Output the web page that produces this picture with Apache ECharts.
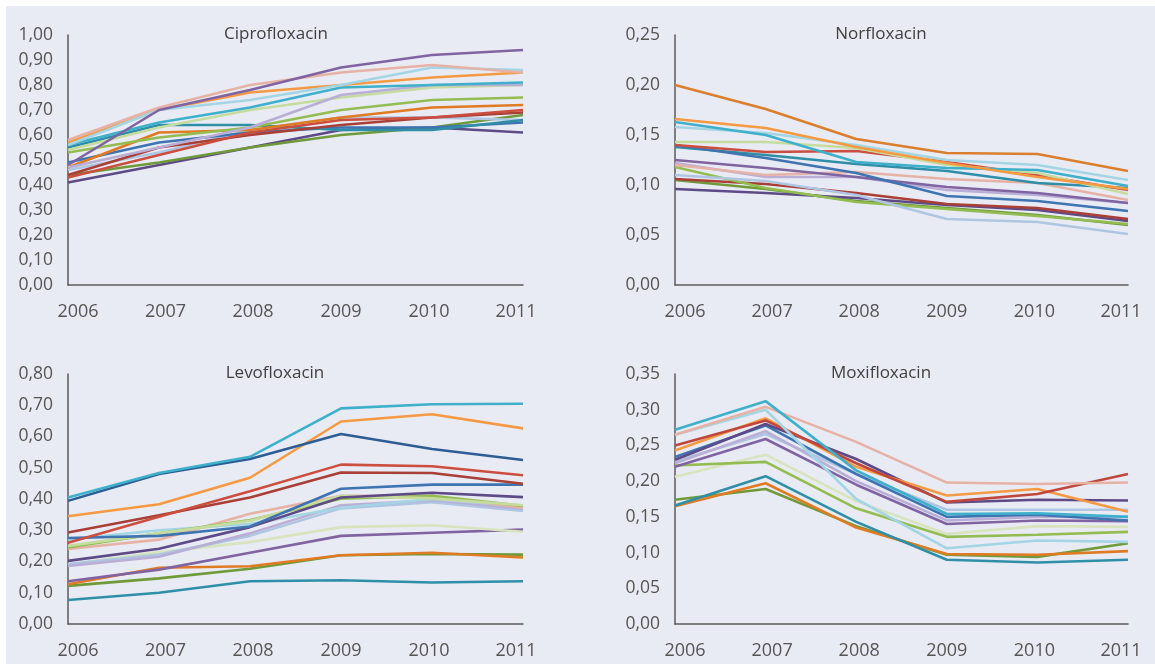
<!DOCTYPE html>
<html>
<head>
<meta charset="utf-8">
<script src="https://cdn.jsdelivr.net/npm/echarts@6/dist/echarts.min.js"></script>
<style>
html,body{margin:0;padding:0;background:#ffffff;}
#chart{position:absolute;left:6px;top:6px;width:1149px;height:658px;}
</style>
</head>
<body>
<div id="chart"></div>
<script>
const years = ['2006','2007','2008','2009','2010','2011'];
const panelTitles = ['Ciprofloxacin','Norfloxacin','Levofloxacin','Moxifloxacin'];

// Ciprofloxacin
const ciproColors = ['#8064A2','#E6B2A6','#A3D5E4','#F59A42','#3FB0CB','#B9AED6','#C6DC9E','#93BD51','#E07B24','#CC4E3E','#A93F36','#2F8FA8','#3E74B2','#AFC6E2','#6F9A3A','#5E4A86'];
const ciproValues = [
  [0.48,0.70,0.78,0.87,0.92,0.94],
  [0.58,0.71,0.80,0.85,0.88,0.85],
  [0.56,0.70,0.74,0.80,0.87,0.86],
  [0.57,0.70,0.77,0.80,0.83,0.85],
  [0.56,0.65,0.71,0.79,0.80,0.81],
  [0.47,0.55,0.63,0.76,0.80,0.80],
  [0.54,0.63,0.70,0.75,0.79,0.80],
  [0.53,0.59,0.63,0.70,0.74,0.75],
  [0.47,0.61,0.62,0.67,0.71,0.72],
  [0.43,0.52,0.61,0.66,0.67,0.70],
  [0.44,0.55,0.60,0.64,0.67,0.69],
  [0.55,0.64,0.64,0.62,0.62,0.66],
  [0.49,0.57,0.61,0.63,0.63,0.65],
  [0.46,0.53,0.62,0.67,0.67,0.66],
  [0.44,0.49,0.55,0.60,0.63,0.68],
  [0.41,0.48,0.55,0.62,0.63,0.61]
];

// Norfloxacin
const norfloColors = ['#DA7F2E','#F59A42','#3FB0CB','#A3D5E4','#C6DC9E','#CC4E3E','#3E74B2','#2F8FA8','#8064A2','#E6B2A6','#B9AED6','#AFC6E2','#93BD51','#A93F36','#5E4A86','#6F9A3A'];
const norfloValues = [
  [0.200,0.176,0.146,0.132,0.131,0.114],
  [0.166,0.157,0.138,0.122,0.108,0.096],
  [0.163,0.150,0.123,0.117,0.115,0.099],
  [0.158,0.152,0.140,0.125,0.120,0.105],
  [0.143,0.143,0.137,0.120,0.112,0.091],
  [0.140,0.133,0.134,0.123,0.110,0.095],
  [0.140,0.127,0.112,0.089,0.084,0.074],
  [0.138,0.130,0.121,0.114,0.102,0.097],
  [0.125,0.117,0.108,0.098,0.092,0.082],
  [0.120,0.110,0.113,0.106,0.102,0.085],
  [0.122,0.108,0.108,0.095,0.090,0.082],
  [0.110,0.104,0.090,0.066,0.063,0.051],
  [0.118,0.097,0.083,0.076,0.069,0.061],
  [0.106,0.101,0.092,0.081,0.077,0.066],
  [0.096,0.092,0.087,0.080,0.075,0.064],
  [0.105,0.096,0.084,0.077,0.070,0.060]
];

// Levofloxacin
const levoColors = ['#3FB0CB','#2D5D95','#F59A42','#CC4E3E','#A93F36','#3E74B2','#5E4A86','#C6DC9E','#93BD51','#E6B2A6','#A3D5E4','#B9AED6','#AFC6E2','#D7E4BD','#8064A2','#E07B24','#6F9A3A','#2F8FA8'];
const levoValues = [
  [0.405,0.483,0.535,0.690,0.703,0.705],
  [0.394,0.480,0.528,0.608,0.560,0.525],
  [0.345,0.383,0.468,0.648,0.671,0.626],
  [0.260,0.343,0.425,0.510,0.505,0.476],
  [0.293,0.348,0.405,0.485,0.483,0.449],
  [0.275,0.282,0.312,0.433,0.446,0.446],
  [0.202,0.241,0.310,0.405,0.420,0.406],
  [0.250,0.290,0.330,0.410,0.402,0.380],
  [0.245,0.290,0.333,0.401,0.410,0.378],
  [0.240,0.270,0.353,0.410,0.410,0.372],
  [0.270,0.300,0.320,0.372,0.400,0.376],
  [0.186,0.215,0.290,0.380,0.396,0.369],
  [0.192,0.222,0.282,0.370,0.390,0.362],
  [0.190,0.230,0.262,0.310,0.316,0.295],
  [0.137,0.174,0.228,0.282,0.292,0.302],
  [0.127,0.180,0.185,0.220,0.228,0.213],
  [0.122,0.146,0.177,0.220,0.224,0.222],
  [0.077,0.100,0.137,0.140,0.133,0.137]
];

// Moxifloxacin
const moxiColors = ['#3FB0CB','#E6B2A6','#A3D5E4','#C0473C','#F59A42','#5E4A86','#3E74B2','#8064A2','#B9AED6','#AFC6E2','#93BD51','#D7E4BD','#2F8FA8','#E07B24','#6F9A3A'];
const moxiValues = [
  [0.272,0.312,0.215,0.154,0.155,0.150],
  [0.265,0.304,0.255,0.198,0.196,0.198],
  [0.265,0.300,0.175,0.106,0.117,0.115],
  [0.250,0.285,0.225,0.171,0.182,0.210],
  [0.243,0.288,0.220,0.180,0.189,0.157],
  [0.230,0.280,0.231,0.170,0.174,0.173],
  [0.234,0.278,0.210,0.150,0.153,0.145],
  [0.220,0.259,0.195,0.140,0.145,0.144],
  [0.225,0.270,0.200,0.145,0.150,0.150],
  [0.228,0.266,0.210,0.160,0.160,0.160],
  [0.222,0.227,0.162,0.122,0.125,0.129],
  [0.206,0.237,0.172,0.126,0.137,0.136],
  [0.166,0.207,0.143,0.090,0.086,0.090],
  [0.165,0.197,0.135,0.098,0.097,0.102],
  [0.174,0.189,0.137,0.097,0.094,0.113]
];

const panels = [
  {values: ciproValues, colors: ciproColors, max: 1.0, interval: 0.1},
  {values: norfloValues, colors: norfloColors, max: 0.25, interval: 0.05},
  {values: levoValues, colors: levoColors, max: 0.8, interval: 0.1},
  {values: moxiValues, colors: moxiColors, max: 0.35, interval: 0.05}
];

const gridPos = [
  {left: 62, top: 29, width: 455, height: 250},
  {left: 669, top: 29, width: 453, height: 250},
  {left: 62, top: 368, width: 455, height: 250},
  {left: 669, top: 368, width: 453, height: 250}
];
const titlePos = [[270, 28], [875, 28], [269, 367], [875, 367]];

const FONT = '"Open Sans", "Noto Sans", sans-serif';
const axisColor = '#5b5b5b';
const labelColor = '#555555';

// per-label horizontal nudges (label padding), mimicking the reference's inset edge labels
const labelRich = {
  s0: {padding: [0, 0, 0, 20]},
  s1: {padding: [0, 0, 0, 13]},
  s2: {padding: [0, 0, 0, 6]},
  s3: {padding: [0, 0, 0, 0]},
  s4: {padding: [0, 6, 0, 0]},
  s5: {padding: [0, 14, 0, 0]}
};
Object.keys(labelRich).forEach(k => {
  Object.assign(labelRich[k], {color: labelColor, fontSize: 18, fontFamily: '"Open Sans", "Noto Sans", sans-serif'});
});

const grid = [], xAxis = [], yAxis = [], series = [], graphic = [];
panels.forEach((p, i) => {
  grid.push(Object.assign({containLabel: false}, gridPos[i]));
  xAxis.push({
    type: 'category', gridIndex: i, data: years, boundaryGap: false,
    axisLine: {show: true, lineStyle: {color: axisColor, width: 1.5}},
    axisTick: {show: false},
    splitLine: {show: false},
    axisLabel: {color: labelColor, fontSize: 18, fontFamily: FONT, margin: 18,
      interval: 0, hideOverlap: false, showMinLabel: true, showMaxLabel: true,
      formatter: (v, idx) => '{s' + idx + '|' + v + '}', rich: labelRich}
  });
  yAxis.push({
    type: 'value', gridIndex: i, min: 0, max: p.max, interval: p.interval,
    axisLine: {show: true, lineStyle: {color: axisColor, width: 1.5}},
    axisTick: {show: false},
    splitLine: {show: false},
    axisLabel: {color: labelColor, fontSize: 17.5, fontFamily: FONT, margin: 15,
      formatter: v => v.toFixed(2).replace('.', ',')}
  });
  p.values.forEach((vals, k) => {
    series.push({
      type: 'line', xAxisIndex: i, yAxisIndex: i, data: vals,
      symbol: 'none', smooth: false, silent: true,
      lineStyle: {color: p.colors[k], width: 2.6},
      itemStyle: {color: p.colors[k]},
      z: 2 + (p.values.length - k) * 0.01
    });
  });
  graphic.push({
    type: 'text', x: titlePos[i][0], y: titlePos[i][1],
    style: {text: panelTitles[i], fill: '#404040', font: '17px ' + FONT,
      textAlign: 'center', textVerticalAlign: 'middle'}
  });
});

const chart = echarts.init(document.getElementById('chart'));
chart.setOption({
  backgroundColor: '#E9EBF4',
  animation: false,
  grid, xAxis, yAxis, series, graphic
});
</script>
</body>
</html>
